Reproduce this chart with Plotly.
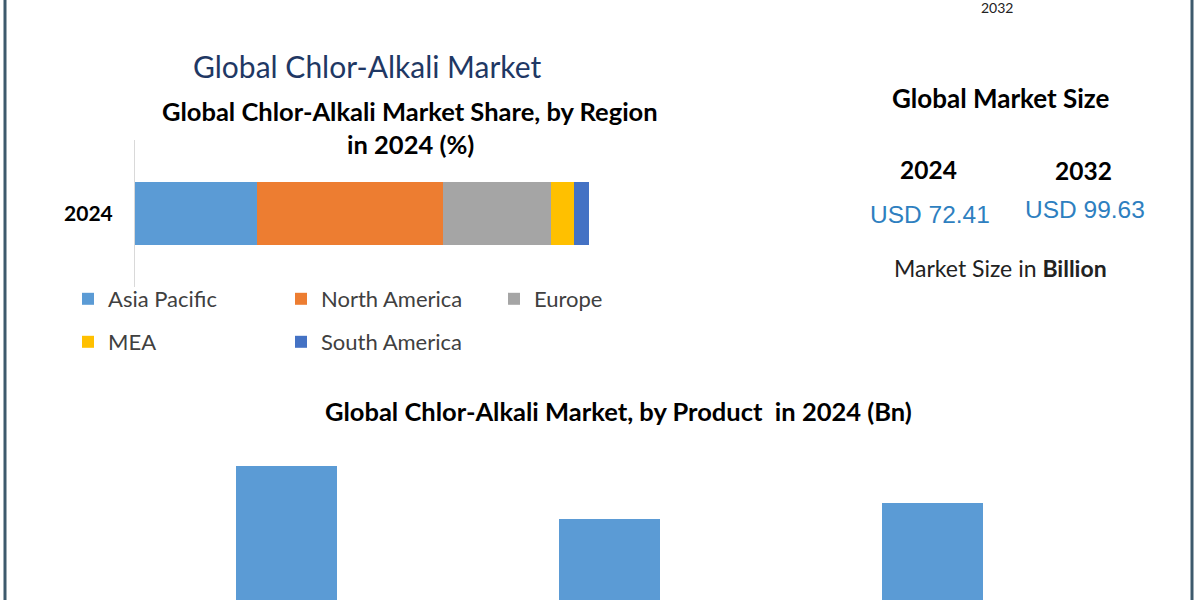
import plotly.graph_objects as go

# ---------------- data ----------------
regions = ["Asia Pacific", "North America", "Europe", "MEA", "South America"]
region_share = [26.9, 41.0, 23.7, 5.1, 3.3]          # % share in 2024
region_colors = ["#5b9bd5", "#ed7d31", "#a5a5a5", "#ffc000", "#4472c4"]
share_year = ["2024"]

products = ["Caustic Soda", "Chlorine", "Soda Ash"]
product_value = [27.1, 21.8, 23.4]                  # USD Bn, 2024

size_years = ["2024", "2032"]
size_values = [72.41, 99.63]                         # USD Bn

# ---------------- helpers ----------------
W, H = 1200, 600
def fx(p):
    return p / W
def fy(p):
    return 1 - p / H

FONT_C = "Lato, 'Open Sans', sans-serif"
FONT_A = "'Liberation Sans', Arial, sans-serif"

fig = go.Figure()

# stacked share bar
for i, (name, val, col) in enumerate(zip(regions, region_share, region_colors)):
    fig.add_trace(go.Bar(
        y=share_year, x=[val], name=name, orientation="h",
        marker=dict(color=col, line=dict(width=0)),
        xaxis="x", yaxis="y", width=0.43,
        legend="legend" if i < 3 else "legend2",
        hoverinfo="skip",
    ))

# product bars
fig.add_trace(go.Bar(
    x=products, y=product_value, marker=dict(color="#5b9bd5", line=dict(width=0)),
    xaxis="x2", yaxis="y2", showlegend=False, hoverinfo="skip",
))

ann = []
def text(x, y, t, size, color="#000000", bold=False, family=FONT_C):
    ann.append(dict(
        x=fx(x), y=fy(y), xref="paper", yref="paper", text=t, showarrow=False,
        xanchor="center", yanchor="middle",
        font=dict(size=size, color=color, family=family, weight="bold" if bold else "normal"),
    ))

text(367, 66, "Global Chlor-Alkali Market", 30, color="#1f3864")
text(410, 111, "Global Chlor-Alkali Market Share, by Region", 25.5, bold=True)
text(410, 144, "in 2024 (%)", 25.5, bold=True)
text(1001, 98, "Global Market Size", 26, bold=True)
# fragment at the top edge
text(997, 8, size_years[1], 14, color="#222222")

pos = [(928, 169, 214), (1083, 171, 209)]
for (cx, yy, vy), yr, v in zip(pos, size_years, size_values):
    text(cx, yy, yr, 24.5, bold=True)
    text(cx + 2, vy, f"USD {v:.2f}", 24.5, color="#2e7fc0", family=FONT_A)
text(1000, 268, "Market Size in <b>Billion</b>", 23, color="#222222")
text(618, 411, "Global Chlor-Alkali Market, by Product  in 2024 (Bn)", 25.5, bold=True)

shapes = [
    dict(type="line", xref="paper", yref="paper", x0=fx(5), x1=fx(5), y0=0, y1=1,
         line=dict(color="#3d5a6c", width=3)),
    dict(type="line", xref="paper", yref="paper", x0=fx(1192), x1=fx(1192), y0=0, y1=1,
         line=dict(color="#3d5a6c", width=3)),
]

legend_common = dict(
    orientation="h", xanchor="left", yanchor="middle", bgcolor="rgba(0,0,0,0)",
    font=dict(size=22, color="#404040", family=FONT_C), traceorder="normal",
    entrywidth=168, entrywidthmode="pixels", itemclick=False, itemdoubleclick=False,
)

fig.update_layout(
    width=W, height=H, margin=dict(l=0, r=0, t=0, b=0),
    paper_bgcolor="white", plot_bgcolor="white",
    barmode="stack", bargap=0.687,
    showlegend=True,
    legend=dict(x=fx(68), y=fy(299), **legend_common),
    legend2=dict(x=fx(68), y=fy(342), **legend_common),
    xaxis=dict(domain=[fx(135), fx(589)], range=[0, 100], showgrid=False, zeroline=False,
               showticklabels=False, anchor="y", fixedrange=True),
    yaxis=dict(domain=[fy(287), fy(140)], type="category", showgrid=False, zeroline=False,
               showline=True, linecolor="#d9d9d9", linewidth=1, anchor="x",
               tickvals=share_year, ticktext=["<b>2024</b>"], ticks="",
               tickfont=dict(size=21, color="#000000", family=FONT_C),
               ticklabelstandoff=17, fixedrange=True),
    xaxis2=dict(domain=[fx(125), fx(1094)], showgrid=False, zeroline=False,
                showticklabels=False, anchor="y2", fixedrange=True),
    yaxis2=dict(domain=[0, fy(440)], range=[13.7, 29.7], showgrid=False, zeroline=False,
                showticklabels=False, anchor="x2", fixedrange=True),
    annotations=ann, shapes=shapes,
)

fig.write_html("out.html")
